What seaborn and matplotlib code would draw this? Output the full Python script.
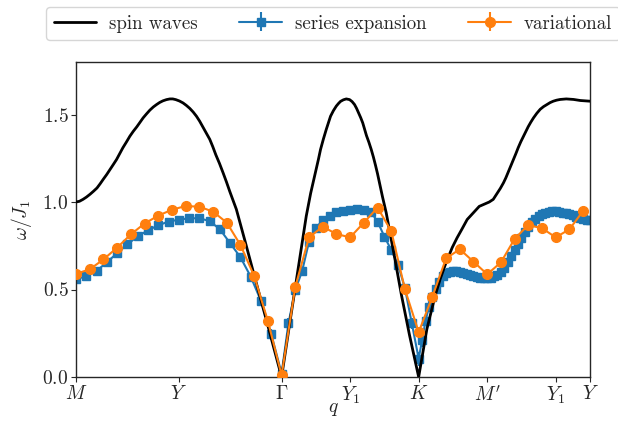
import numpy as np
import pandas as pd
import seaborn as sns
import matplotlib.pyplot as plt

# high-symmetry path (path coordinate in units of the variational step)
tick_pos = [0, 7.5, 15, 20, 25, 30, 35, 37.5]
tick_labels = ['$M$', '$Y$', r'$\Gamma$', '$Y_1$', '$K$', "$M'$", '$Y_1$', '$Y$']

# linear spin-wave dispersion
sw_q = [0.00, 0.25, 0.51, 0.76, 1.02, 1.27, 1.53, 1.76, 1.99, 2.24, 2.48, 2.72, 2.96, 3.19,
        3.42, 3.68, 3.93, 4.18, 4.44, 4.67, 4.90, 5.15, 5.39, 5.64, 5.88, 6.11, 6.34, 6.60,
        6.85, 7.06, 7.28, 7.55, 7.81, 8.05, 8.30, 8.55, 8.79, 9.02, 9.25, 9.50, 9.76, 9.98,
        10.20, 10.47, 10.73, 10.98, 11.22, 11.46, 11.70, 12.31, 13.04, 13.77, 14.42, 15.00,
        15.58, 16.17, 16.80, 17.12, 17.33, 17.53, 17.69, 17.84, 18.05, 18.26, 18.42, 18.57,
        18.78, 18.99, 19.15, 19.30, 19.51, 19.72, 19.96, 20.14, 20.32, 20.47, 20.61, 20.77,
        20.92, 21.05, 21.19, 21.37, 21.54, 21.70, 21.85, 22.00, 22.14, 22.36, 22.63, 23.23,
        23.74, 24.33, 25.00,
        25.60, 26.20, 26.57, 27.00, 27.45, 27.80, 28.15, 28.54, 29.00, 29.42, 29.85, 30.15,
        30.44, 30.73, 30.96, 31.19, 31.36, 31.53, 31.72, 31.92, 32.09, 32.26, 32.45, 32.65,
        32.82, 32.99, 33.18, 33.38, 33.62, 33.87, 34.11, 34.36, 34.59, 34.82, 35.07, 35.33,
        35.77, 36.30, 36.79, 37.50]
sw_omega = [1.000, 1.004, 1.015, 1.028, 1.044, 1.061, 1.080, 1.104, 1.130, 1.157, 1.185,
            1.214, 1.243, 1.276, 1.310, 1.343, 1.376, 1.404, 1.430, 1.456, 1.481, 1.504,
            1.525, 1.543, 1.557, 1.569, 1.578, 1.585, 1.589, 1.589, 1.585, 1.577, 1.566,
            1.552, 1.535, 1.514, 1.490, 1.462, 1.430, 1.396, 1.358, 1.316, 1.270, 1.220,
            1.167, 1.114, 1.060, 1.009, 0.958, 0.783, 0.570, 0.360, 0.170, 0.000,
            0.300, 0.600, 0.920, 1.050, 1.121, 1.187, 1.245, 1.300, 1.360, 1.415, 1.454,
            1.490, 1.522, 1.548, 1.563, 1.575, 1.584, 1.589, 1.585, 1.574, 1.557, 1.535,
            1.510, 1.482, 1.452, 1.418, 1.380, 1.341, 1.300, 1.256, 1.210, 1.161, 1.110,
            1.030, 0.939, 0.690, 0.470, 0.240, 0.000,
            0.274, 0.464, 0.560, 0.654, 0.740, 0.795, 0.844, 0.900, 0.939, 0.975, 0.990,
            1.000, 1.015, 1.050, 1.078, 1.110, 1.138, 1.170, 1.206, 1.243, 1.276, 1.310,
            1.344, 1.376, 1.404, 1.430, 1.456, 1.481, 1.507, 1.530, 1.545, 1.557, 1.568,
            1.576, 1.582, 1.586, 1.589, 1.586, 1.580, 1.576]

# series expansion
se_q = list(np.arange(0, 15.01, 0.75)) + list(np.arange(15.5, 25.01, 0.5)) + \
       list(np.arange(25.25, 37.51, 0.25))
se_omega = [0.560, 0.575, 0.606, 0.656, 0.707, 0.758, 0.804, 0.838, 0.867, 0.888, 0.899,
            0.907, 0.907, 0.891, 0.844, 0.764, 0.684, 0.573, 0.434, 0.244, 0.020,
            0.307, 0.497, 0.606, 0.773, 0.850, 0.897, 0.922, 0.941, 0.949, 0.956, 0.960,
            0.954, 0.945, 0.888, 0.802, 0.726, 0.640, 0.507, 0.307, 0.105,
            0.210, 0.320, 0.400, 0.455, 0.505, 0.545, 0.575, 0.592, 0.602, 0.606, 0.606,
            0.602, 0.597, 0.590, 0.583, 0.577, 0.572, 0.568, 0.566, 0.565,
            0.568, 0.575, 0.585, 0.600, 0.625, 0.655, 0.690, 0.725, 0.760, 0.795, 0.830,
            0.860, 0.885, 0.905, 0.920, 0.932, 0.940, 0.945, 0.947, 0.946, 0.944, 0.940,
            0.935, 0.930, 0.924, 0.917, 0.910, 0.904, 0.900, 0.897]
se_err = [0.01] * 18 + [0.02, 0.03, 0.03] + \
         [0.03, 0.02] + [0.01] * 15 + [0.02, 0.03, 0.04] + \
         [0.04, 0.03, 0.03, 0.02] + [0.01] * 46

# variational
var_q = list(range(38))
var_omega = [0.590, 0.615, 0.672, 0.739, 0.815, 0.877, 0.922, 0.956, 0.977, 0.973, 0.945,
             0.882, 0.754, 0.577, 0.320, 0.010, 0.516, 0.798, 0.859, 0.817, 0.798, 0.882,
             0.968, 0.834, 0.501, 0.256, 0.459, 0.678, 0.730, 0.659, 0.587, 0.655, 0.789,
             0.869, 0.850, 0.798, 0.844, 0.949]
var_err = [0.005] * 38

sns.set_style("ticks")
plt.rcParams['font.family'] = ['cmr10', 'DejaVu Serif']
plt.rcParams['mathtext.fontset'] = 'cm'
plt.rcParams['axes.formatter.use_mathtext'] = True
plt.rcParams['font.size'] = 14

pal = sns.color_palette("tab10")
fig = plt.figure(figsize=(6.18, 4.22), dpi=100)
ax = fig.add_axes([76 / 618, 45 / 422, 514 / 618, 315 / 422])

sw = pd.DataFrame({'q': sw_q, 'omega': sw_omega})
ax.errorbar(se_q, se_omega, yerr=se_err, fmt='-s', color=pal[0], ms=6, lw=1.5,
            label='series expansion', zorder=2)
sns.lineplot(data=sw, x='q', y='omega', color='black', lw=2, sort=False, estimator=None,
             label='spin waves', ax=ax, zorder=3)
ax.errorbar(var_q, var_omega, yerr=var_err, fmt='-o', color=pal[1], ms=7, lw=1.5,
            label='variational', zorder=4)
if ax.get_legend() is not None:
    ax.get_legend().remove()

ax.set_xlim(0, 37.5)
ax.set_ylim(0, 1.8)
ax.set_xticks(tick_pos)
ax.set_xticklabels(tick_labels)
ax.set_yticks([0.0, 0.5, 1.0, 1.5])
ax.tick_params(pad=2)
ax.set_xlabel('$q$', labelpad=-4)
ax.set_ylabel(r'$\omega/J_1$', labelpad=6)
for s in ax.spines.values():
    s.set_visible(True)
    s.set_linewidth(1.0)

handles, labels = ax.get_legend_handles_labels()
order = [labels.index(l) for l in ['spin waves', 'series expansion', 'variational']]
fig.legend([handles[i] for i in order], [labels[i] for i in order], loc='upper left',
           bbox_to_anchor=(46 / 618, 1 - 7 / 422), ncol=3, frameon=True, fontsize=13.6,
           handlelength=2.25, handletextpad=0.7, columnspacing=2.2, borderpad=0.4,
           borderaxespad=0)

fig.savefig('out.png', dpi=100)
